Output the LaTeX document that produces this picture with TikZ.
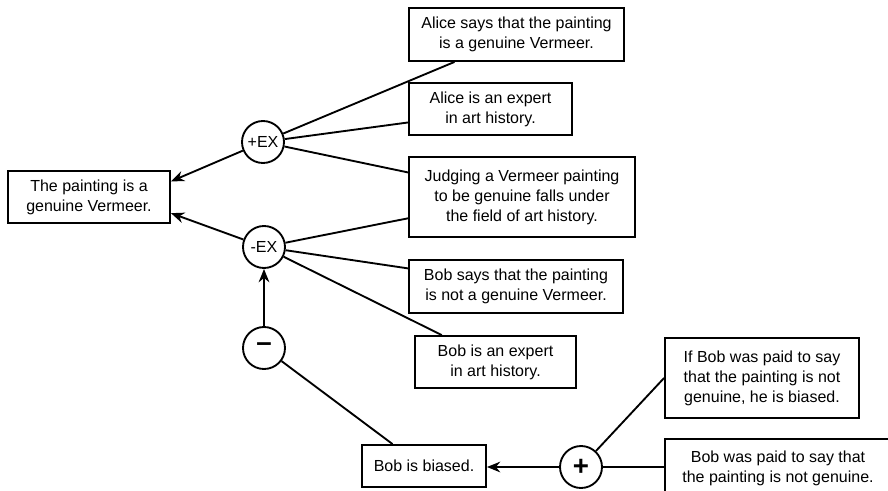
\documentclass[tikz,border=0pt]{standalone}
\usepackage{fontspec}
\setmainfont{Liberation Sans}
\usetikzlibrary{arrows.meta,calc}
\begin{document}
\begin{tikzpicture}[x=0.75pt,y=-0.75pt,
  every node/.style={font=\fontsize{12}{15}\selectfont},
  box/.style={draw,line width=1.4pt,rectangle,inner sep=0pt,align=center},
  op/.style={draw,line width=1.4pt,circle,inner sep=0pt,minimum size=31.5pt},
  link/.style={line width=1.4pt},
  arr/.style={line width=1.4pt,-{Stealth[length=10pt,width=8pt]}}]
\useasboundingbox (0,0) rectangle (888,490);
% boxes
\node[box,minimum width=121.5pt,minimum height=39pt] (main) at (89,197) {The painting is a\\genuine Vermeer.};
\node[box,minimum width=161.25pt,minimum height=39.75pt] (alice1) at (516.5,34.5) {Alice says that the painting\\is a genuine Vermeer.};
\node[box,minimum width=122.25pt,minimum height=39pt] (alice2) at (490.5,109) {Alice is an expert\\in art history.};
\node[box,minimum width=169.5pt,minimum height=60pt] (judge) at (522,197) {Judging a Vermeer painting\\to be genuine falls under\\the field of art history.};
\node[box,minimum width=160.5pt,minimum height=39.75pt] (bob1) at (516,286.5) {Bob says that the painting\\is not a genuine Vermeer.};
\node[box,minimum width=120.75pt,minimum height=39pt] (bob2) at (495.5,362) {Bob is an expert\\in art history.};
\node[box,minimum width=93pt,minimum height=31.5pt] (biased) at (424,466) {Bob is biased.};
\node[box,minimum width=145.5pt,minimum height=60pt] (ifbob) at (762,378) {If Bob was paid to say\\that the painting is not\\genuine, he is biased.};
\node[box,minimum width=180pt,minimum height=43.5pt] (paid) at (785,468) {\hspace*{-10.5pt}Bob was paid to say that\\\hspace*{-10.5pt}the painting is not genuine.};
% operators
\node[op] (pex) at (263,142) {+EX};
\node[op] (mex) at (264,247) {-EX};
\node[op] (minus) at (264,348) {\bfseries\huge\raisebox{1pt}{–}};
\node[op] (plus) at (581,467) {\bfseries\huge +};
% attachment points
\coordinate (mainA) at ($(main.north east)!0.21!(main.south east)$);
\coordinate (mainB) at ($(main.north east)!0.8!(main.south east)$);
\coordinate (a1) at ($(alice1.south west)!0.214!(alice1.south east)$);
\coordinate (a2) at ($(alice2.north west)!0.75!(alice2.south west)$);
\coordinate (j1) at ($(judge.north west)!0.2!(judge.south west)$);
\coordinate (j2) at ($(judge.north west)!0.76!(judge.south west)$);
\coordinate (b1) at ($(bob1.north west)!0.17!(bob1.south west)$);
\coordinate (b2) at ($(bob2.north west)!0.17!(bob2.north east)$);
\coordinate (bi) at ($(biased.north west)!0.25!(biased.north east)$);
% connectors
\draw[arr] (pex) -- (mainA);
\draw[arr] (mex) -- (mainB);
\draw[link] (pex) -- (a1);
\draw[link] (pex) -- (a2);
\draw[link] (pex) -- (j1);
\draw[link] (mex) -- (j2);
\draw[link] (mex) -- (b1);
\draw[link] (mex) -- (b2);
\draw[arr] (minus) -- (mex);
\draw[link] (bi) -- (minus);
\draw[arr] (plus) -- (biased.east |- plus);
\draw[link] (plus) -- (ifbob.west);
\draw[link] (plus) -- (paid.west |- plus);
\end{tikzpicture}
\end{document}
